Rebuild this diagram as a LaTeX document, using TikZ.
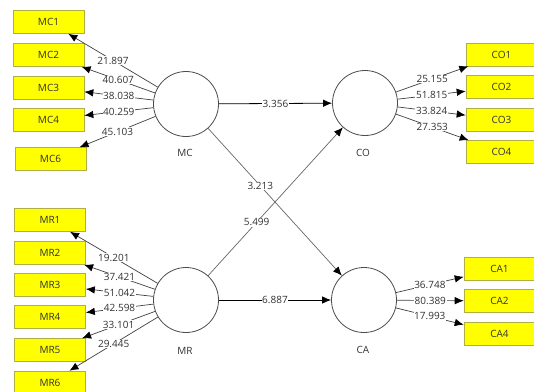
\documentclass[tikz,border=0pt]{standalone}
\usepackage{fontspec}
\setmainfont{Open Sans}
\usepackage{xcolor}
\usepackage{tikz}
\usetikzlibrary{arrows.meta}
\definecolor{indyellow}{RGB}{255,255,0}
\definecolor{indedge}{RGB}{175,175,70}
\definecolor{txtgray}{RGB}{50,50,50}

\begin{document}
\begin{tikzpicture}[x=1pt, y=-1pt,
    font=\fontsize{10}{12}\selectfont, text=txtgray,
    latent/.style={circle, draw=black!70, line width=0.8pt, minimum size=65pt, inner sep=0pt},
    indicator/.style={rectangle, draw=indedge, line width=0.6pt, fill=indyellow, minimum width=71pt, minimum height=23pt},
    loading/.style={draw=black!75, line width=0.7pt, -{Latex[length=9pt,width=7.5pt,color=black]}},
    path/.style={draw=black, line width=0.8pt, -{Latex[length=9pt,width=7.5pt,color=black]}},
    crosspath/.style={draw=black!60, line width=0.7pt, -{Latex[length=9pt,width=7.5pt,color=black]}},
    coef/.style={midway, fill=white, inner sep=0.6pt}
]
    \useasboundingbox (0,0) rectangle (534,391);

    % constructs
    \node[latent] at (186,104) (mc) {};
    \node[latent] at (365,103) (co) {};
    \node[latent] at (186,300) (mr) {};
    \node[latent] at (364,300) (ca) {};
    \node at (185,153) (mclabel) {MC};
    \node at (363,153) (colabel) {CO};
    \node at (185,351) (mrlabel) {MR};
    \node at (363,350) (calabel) {CA};

    % indicators
    \node[indicator] at (48.5,22) (mc1) {MC1};
    \node[indicator] at (48.5,55) (mc2) {MC2};
    \node[indicator] at (48.5,87.5) (mc3) {MC3};
    \node[indicator] at (48.5,119.5) (mc4) {MC4};
    \node[indicator] at (50.5,159) (mc6) {MC6};
    \node[indicator] at (50,220) (mr1) {MR1};
    \node[indicator] at (50,253) (mr2) {MR2};
    \node[indicator] at (50,285) (mr3) {MR3};
    \node[indicator] at (50,317) (mr4) {MR4};
    \node[indicator] at (50,350) (mr5) {MR5};
    \node[indicator] at (50,382.5) (mr6) {MR6};
    \node[indicator] at (501.5,54.5) (co1) {CO1};
    \node[indicator] at (501.5,87) (co2) {CO2};
    \node[indicator] at (501.5,119.5) (co3) {CO3};
    \node[indicator] at (501.5,152) (co4) {CO4};
    \node[indicator] at (499.5,268.5) (ca1) {CA1};
    \node[indicator] at (499.5,301) (ca2) {CA2};
    \node[indicator] at (499.5,333.5) (ca4) {CA4};

    % outer loadings
    \draw[loading] (mc) -- (mc1) node[coef] {21.897};
    \draw[loading] (mc) -- (mc2) node[coef] {40.607};
    \draw[loading] (mc) -- (mc3) node[coef] {38.038};
    \draw[loading] (mc) -- (mc4) node[coef] {40.259};
    \draw[loading] (mc) -- (mc6) node[coef] {45.103};
    \draw[loading] (mr) -- (mr1) node[coef] {19.201};
    \draw[loading] (mr) -- (mr2) node[coef] {37.421};
    \draw[loading] (mr) -- (mr3) node[coef] {51.042};
    \draw[loading] (mr) -- (mr4) node[coef] {42.598};
    \draw[loading] (mr) -- (mr5) node[coef] {33.101};
    \draw[loading] (mr) -- (mr6) node[coef] {29.445};
    \draw[loading] (co) -- (co1) node[coef] {25.155};
    \draw[loading] (co) -- (co2) node[coef] {51.815};
    \draw[loading] (co) -- (co3) node[coef] {33.824};
    \draw[loading] (co) -- (co4) node[coef] {27.353};
    \draw[loading] (ca) -- (ca1) node[coef] {36.748};
    \draw[loading] (ca) -- (ca2) node[coef] {80.389};
    \draw[loading] (ca) -- (ca4) node[coef] {17.993};

    % inner model
    \draw[path] (mc) -- (co) node[coef] {3.356};
    \draw[path] (mr) -- (ca) node[coef] {6.887};
    \draw[crosspath] (mc) -- (ca) node[coef, pos=0.39] {3.213};
    \draw[crosspath] (mr) -- (co) node[coef, pos=0.36] {5.499};
\end{tikzpicture}
\end{document}
